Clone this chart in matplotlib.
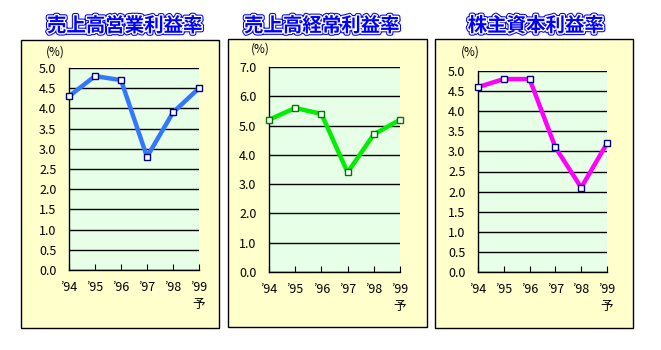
import matplotlib
matplotlib.use("Agg")
import matplotlib.pyplot as plt
import matplotlib.patheffects as pe
from matplotlib.patches import Rectangle

plt.rcParams['font.family'] = ['Noto Sans CJK JP', 'DejaVu Sans']

years = ["’94", "’95", "’96", "’97", "’98", "’99"]
titles = ["売上高営業利益率", "売上高経常利益率", "株主資本利益率"]
op_margin = [4.3, 4.8, 4.7, 2.8, 3.9, 4.5]
ord_margin = [5.2, 5.6, 5.4, 3.4, 4.7, 5.2]
roe = [4.6, 4.8, 4.8, 3.1, 2.1, 3.2]
series = [op_margin, ord_margin, roe]
yticks = [[0.0, 0.5, 1.0, 1.5, 2.0, 2.5, 3.0, 3.5, 4.0, 4.5, 5.0],
          [0.0, 1.0, 2.0, 3.0, 4.0, 5.0, 6.0, 7.0],
          [0.0, 0.5, 1.0, 1.5, 2.0, 2.5, 3.0, 3.5, 4.0, 4.5, 5.0]]
line_colors = ["#3377FF", "#00EE00", "#FF00FF"]
marker_edges = ["#000080", "#007700", "#000080"]

W, H = 661, 350
fig = plt.figure(figsize=(W / 100, H / 100), dpi=100)
fig.patch.set_facecolor("white")

boxes = [(21, 40, 219, 328), (228, 39, 427, 327), (435, 39, 633, 328)]
axes_px = [(69, 68, 199, 270), (269, 67, 400, 272), (478, 71, 607, 272)]
title_pos = [(125, 26), (322, 26), (536, 26)]
pct_pos = [(55, 52), (260, 49), (470, 52)]

for i in range(3):
    x0, y0, x1, y1 = boxes[i]
    fig.patches.append(Rectangle((x0 / W, 1 - y1 / H), (x1 - x0) / W, (y1 - y0) / H,
                                 transform=fig.transFigure, facecolor="#FFFFCC",
                                 edgecolor="black", linewidth=1.0, zorder=-5))
    l, t, r, b = axes_px[i]
    ax = fig.add_axes([l / W, 1 - b / H, (r - l) / W, (b - t) / H])
    ax.set_zorder(2)
    ax.set_facecolor("#E6FFE6")
    xs = list(range(len(years)))
    ax.plot(xs, series[i], color=line_colors[i], linewidth=3.2, marker="s",
            markersize=5, markerfacecolor="white", markeredgecolor=marker_edges[i],
            markeredgewidth=1.0, zorder=5, clip_on=False)
    ax.set_xlim(0, 5)
    ax.set_ylim(yticks[i][0], yticks[i][-1])
    ax.set_yticks(yticks[i])
    ax.set_yticklabels([f"{v:.1f}" for v in yticks[i]], fontsize=9)
    ax.set_xticks(xs)
    ax.set_xticklabels(years, fontsize=9)
    ax.tick_params(axis="x", direction="in", length=4, width=0.8, pad=8)
    ax.tick_params(axis="y", length=0, pad=9)
    ax.grid(axis="y", color="black", linewidth=1.0)
    ax.set_axisbelow(True)
    for s in ["top", "right"]:
        ax.spines[s].set_visible(False)
    for s in ["left", "bottom"]:
        ax.spines[s].set_color("black")
        ax.spines[s].set_linewidth(1.0)
    ax.text(5, -0.17, "予", transform=ax.get_xaxis_transform(), ha="center",
            va="center", fontsize=9)
    tx, ty = title_pos[i]
    fig.text(tx / W, 1 - ty / H, titles[i], ha="center", va="center", fontsize=14,
             fontweight="bold", color="#0000FF",
             path_effects=[pe.Stroke(linewidth=3.5, foreground="#0000FF"),
                           pe.Stroke(linewidth=2.0, foreground="white"), pe.Normal()])
    px, py = pct_pos[i]
    fig.text(px / W, 1 - py / H, "(%)", ha="center", va="center", fontsize=8.5)

fig.savefig("out.png", dpi=100, facecolor="white")
